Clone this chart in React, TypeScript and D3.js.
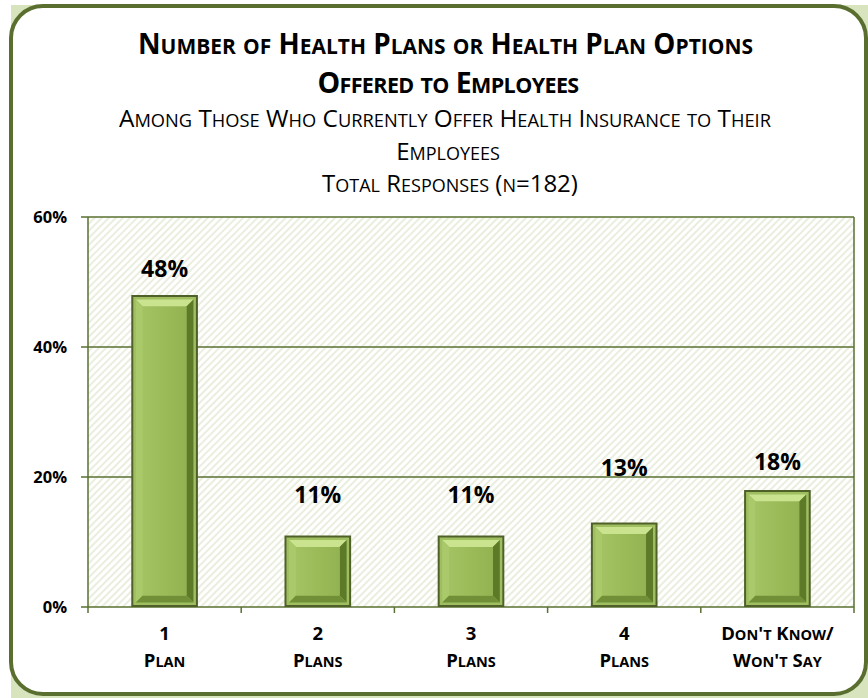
import React from "react";
import * as d3 from "d3";

const categoriesTop = ["1", "2", "3", "4", "Don't Know/"];
const categoriesBottom = ["Plan", "Plans", "Plans", "Plans", "Won't Say"];
const values = [48, 11, 11, 13, 18];
const yTicks = [0, 20, 40, 60];
const titleLines = ["Number of Health Plans or Health Plan Options", "Offered to Employees"];
const subtitleLines = ["Among Those Who Currently Offer Health Insurance to Their", "Employees", "Total Responses (n=182)"];

// label lifts above bar top (px), as placed in the original
const labelLift = [18, 33, 33, 47, 20];

const W = 868;
const H = 698;
const FONT = "'Open Sans', 'DejaVu Sans', sans-serif";

function smallCaps(text: string, big: number, small: number) {
  const runs: { s: string; sm: boolean }[] = [];
  for (const ch of text) {
    const sm = ch >= "a" && ch <= "z";
    const last = runs[runs.length - 1];
    if (last && last.sm === sm) last.s += ch;
    else runs.push({ s: ch, sm });
  }
  return runs.map((r, i) => (
    <tspan key={i} fontSize={r.sm ? small : big}>
      {r.sm ? r.s.toUpperCase() : r.s}
    </tspan>
  ));
}

function Bar({ x, y, w, h }: { x: number; y: number; w: number; h: number }) {
  const o = 2; // dark outline
  const r = 2.5; // light rim
  const b = 7; // bevel
  const x0 = x + o + r, y0 = y + o + r, x1 = x + w - o - r, y1 = y + h - o - r;
  const ix0 = x0 + b, iy0 = y0 + b, ix1 = x1 - b, iy1 = y1 - b;
  const p = (pts: number[][]) => pts.map((q) => q.join(",")).join(" ");
  return (
    <g>
      <rect x={x} y={y} width={w} height={h} fill="#4f6129" />
      <rect x={x + o} y={y + o} width={w - 2 * o} height={h - 2 * o} fill="#9fbe60" />
      <polygon points={p([[x0, y0], [x1, y0], [ix1, iy0], [ix0, iy0]])} fill="#c9e38f" />
      <polygon points={p([[x0, y0], [ix0, iy0], [ix0, iy1], [x0, y1]])} fill="#a9c96a" />
      <polygon points={p([[x1, y0], [x1, y1], [ix1, iy1], [ix1, iy0]])} fill="#5c7a27" />
      <polygon points={p([[x0, y1], [ix0, iy1], [ix1, iy1], [x1, y1]])} fill="#718f36" />
      <rect x={ix0} y={iy0} width={Math.max(0, ix1 - ix0)} height={Math.max(0, iy1 - iy0)} fill="url(#faceGrad)" />
    </g>
  );
}

export default function App() {
  const left = 88, right = 854, top = 217, bottom = 607;
  const x = d3
    .scaleBand<number>()
    .domain(values.map((_, i) => i))
    .range([left, right])
    .paddingInner(0.565)
    .paddingOuter(0.2825);
  const y = d3.scaleLinear().domain([0, 60]).range([bottom, top]);
  const step = x.step();
  const boundaries = d3.range(values.length + 1).map((i) => left + i * step);
  const olive = "#5a7131";

  return (
    <svg width={W} height={H} style={{ position: "absolute", left: 0, top: 0 }} fontFamily={FONT}>
      <defs>
        <pattern id="hatch" patternUnits="userSpaceOnUse" width={5} height={5} patternTransform="rotate(45)">
          <rect width={5} height={5} fill="#ffffff" />
          <line x1={1} y1={0} x2={1} y2={5} stroke="#e3e9d3" strokeWidth={1.5} />
        </pattern>
        <linearGradient id="faceGrad" x1="0" x2="1" y1="0" y2="0">
          <stop offset="0" stopColor="#a3c262" />
          <stop offset="0.5" stopColor="#9bbb59" />
          <stop offset="1" stopColor="#93b352" />
        </linearGradient>
      </defs>
      <rect x={11} y={5} width={W - 11} height={H - 5} fill="#d7e4bd" />
      <rect x={11} y={6} width={855} height={688} rx={32} ry={32} fill="#ffffff" stroke="#5a6f2f" strokeWidth={4} />

      {/* Titles */}
      <g textAnchor="middle" fill="#000">
        <text x={445.5} y={54} fontWeight="bold" textLength={615} lengthAdjust="spacingAndGlyphs">
          {smallCaps(titleLines[0], 28.5, 21.5)}
        </text>
        <text x={448} y={93} fontWeight="bold" letterSpacing={-0.6}>
          {smallCaps(titleLines[1], 28.5, 21.5)}
        </text>
        <text x={445} y={127} textLength={652} lengthAdjust="spacingAndGlyphs">
          {smallCaps(subtitleLines[0], 24, 18)}
        </text>
        <text x={448} y={160}>{smallCaps(subtitleLines[1], 24, 18)}</text>
        <text x={450} y={192}>{smallCaps(subtitleLines[2], 24, 18)}</text>
      </g>

      {/* Plot area */}
      <rect x={left} y={top} width={right - left} height={bottom - top} fill="url(#hatch)" />
      {yTicks.map((t) => (
        <g key={t}>
          <line x1={left - 7} x2={right} y1={y(t)} y2={y(t)} stroke={olive} strokeWidth={1.5} />
          <text x={67} y={y(t) + 6} textAnchor="end" fontWeight="bold" fontSize={16.5} fill="#000">
            {t}%
          </text>
        </g>
      ))}
      <line x1={left} x2={left} y1={top} y2={bottom} stroke={olive} strokeWidth={1.5} />
      <line x1={right} x2={right} y1={top} y2={bottom} stroke={olive} strokeWidth={1.5} />
      {boundaries.map((bx, i) => (
        <line key={i} x1={bx} x2={bx} y1={bottom} y2={bottom + 6} stroke={olive} strokeWidth={1.5} />
      ))}

      {/* Bars */}
      {values.map((v, i) => (
        <Bar key={i} x={x(i)!} y={y(v)} w={x.bandwidth()} h={y(0) - y(v)} />
      ))}

      {/* Value labels */}
      {values.map((v, i) => (
        <text
          key={i}
          x={x(i)! + x.bandwidth() / 2}
          y={y(v) - labelLift[i]}
          textAnchor="middle"
          fontWeight="bold"
          fontSize={23}
          fill="#000"
        >
          {v}%
        </text>
      ))}

      {/* Category labels */}
      {values.map((_, i) => {
        const cx = x(i)! + x.bandwidth() / 2;
        return (
          <g key={i} textAnchor="middle" fontWeight="bold" fill="#000">
            <text x={cx} y={640}>{smallCaps(categoriesTop[i], 18.5, 14.5)}</text>
            <text x={cx} y={667}>{smallCaps(categoriesBottom[i], 18.5, 14.5)}</text>
          </g>
        );
      })}
    </svg>
  );
}
